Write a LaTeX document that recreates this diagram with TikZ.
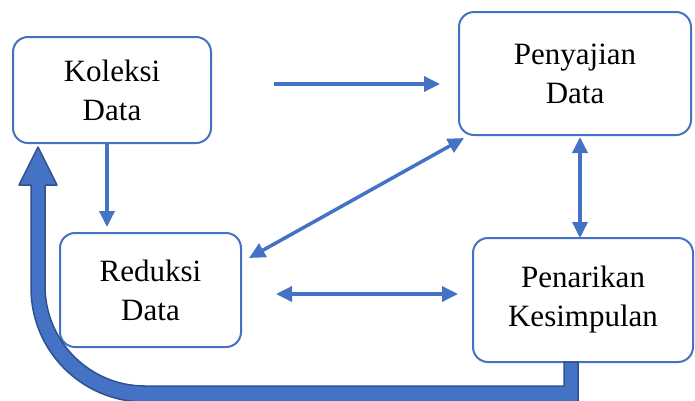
\documentclass[tikz,border=0pt]{standalone}
\usepackage{fontspec}
\setmainfont{Liberation Serif}
\newfontfamily\stagefont{Liberation Serif}
\usepackage{tikz}
\usetikzlibrary{arrows.meta,positioning}
\definecolor{flowblue}{HTML}{4472C4}
\definecolor{flowdark}{HTML}{2F528F}

\begin{document}
\begin{tikzpicture}[x=1pt,y=-1pt,
    stage/.style={draw=flowblue,line width=2pt,rounded corners=15pt,fill=white,
        align=center,inner sep=0pt,font=\stagefont\fontsize{31}{39}\selectfont},
    flow/.style={flowblue,line width=3.5pt,-{Triangle[length=16pt,width=15pt]}},
    twoway/.style={flow,{Triangle[length=16pt,width=15pt]}-{Triangle[length=16pt,width=15pt]}}]
    \useasboundingbox (0,0) rectangle (695,400);

    % the four stages
    \node[stage,minimum width=198pt,minimum height=106pt] (koleksi) at (112,90) {Koleksi\\Data};
    \node[stage,minimum width=232pt,minimum height=123pt] (penyajian) at (575,73.5) {Penyajian\\Data};
    \node[stage,minimum width=181pt,minimum height=114pt] (reduksi) at (150.5,290) {Reduksi\\Data};
    \node[stage,minimum width=220pt,minimum height=124pt] (penarikan) at (583,300) {Penarikan\\Kesimpulan};

    \draw[flow] ([xshift=62pt,yshift=6pt]koleksi.east) -- ([xshift=-18pt,yshift=-10.5pt]penyajian.west);
    \draw[flow] ([xshift=-5pt]koleksi.south) -- ([xshift=-43.5pt,yshift=5pt]reduksi.north);
    \draw[twoway] ([xshift=6pt,yshift=-2pt]penyajian.south west) -- ([xshift=7pt,yshift=-26pt]reduksi.north east);
    \draw[twoway] ([xshift=5pt,yshift=-1pt]penyajian.south) -- ([xshift=-3pt,yshift=-1pt]penarikan.north);
    \draw[twoway] ([xshift=34pt,yshift=-4pt]reduksi.east) -- ([xshift=-14pt,yshift=6pt]penarikan.west);

    % u-turn arrow back to the start
    \draw[draw=flowdark,fill=flowblue,line width=1.5pt,line join=round]
        (564,362) -- (564,386) -- (145,386) arc[start angle=90,end angle=180,radius=100]
        -- (45,185) -- (57,185) -- (38,147) -- (19,185) -- (31,185) -- (31,288)
        arc[start angle=180,end angle=90,radius=114] -- (578,402) -- (578,362) -- cycle;
\end{tikzpicture}
\end{document}
